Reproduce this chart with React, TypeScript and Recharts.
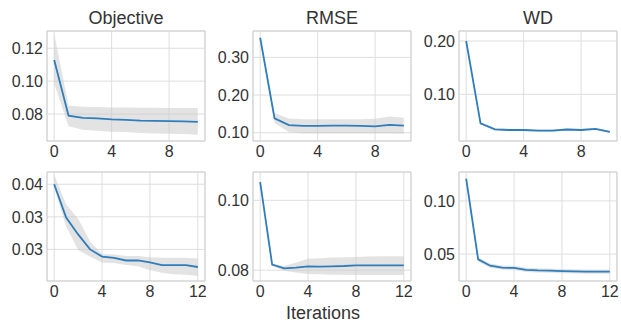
import React from 'react';
import { ComposedChart, Line, Area, XAxis, YAxis, CartesianGrid, ReferenceArea } from 'recharts';

// iterations
const itersTop = [0, 1, 2, 3, 4, 5, 6, 7, 8, 9, 10];
const itersBottom = [0, 1, 2, 3, 4, 5, 6, 7, 8, 9, 10, 11, 12];

// top row
const objMean = [0.1129, 0.079, 0.0777, 0.0773, 0.0767, 0.0765, 0.076, 0.0759, 0.0757, 0.0755, 0.0752];
const objLo = [0.0985, 0.0725, 0.0705, 0.0698, 0.0693, 0.069, 0.0685, 0.0682, 0.068, 0.0678, 0.0674];
const objHi = [0.129, 0.085, 0.0845, 0.0843, 0.084, 0.084, 0.0838, 0.0838, 0.0837, 0.0837, 0.0836];

const rmseMean = [0.352, 0.138, 0.12, 0.118, 0.118, 0.119, 0.119, 0.118, 0.117, 0.121, 0.119];
const rmseLo = [0.349, 0.126, 0.102, 0.098, 0.098, 0.098, 0.098, 0.098, 0.098, 0.098, 0.097];
const rmseHi = [0.355, 0.152, 0.138, 0.136, 0.136, 0.136, 0.136, 0.136, 0.137, 0.143, 0.14];

const wdMean = [0.2, 0.0456, 0.0343, 0.033, 0.033, 0.032, 0.032, 0.034, 0.033, 0.035, 0.0295];
const wdLo = [0.198, 0.0436, 0.0323, 0.031, 0.031, 0.0298, 0.0298, 0.032, 0.031, 0.033, 0.0275];
const wdHi = [0.202, 0.0476, 0.0363, 0.035, 0.035, 0.0342, 0.0342, 0.036, 0.035, 0.037, 0.0315];

// bottom row
const obj2Mean = [0.04, 0.0349, 0.0323, 0.03, 0.0289, 0.0287, 0.0283, 0.0283, 0.028, 0.0276, 0.0276, 0.0276, 0.0273];
const obj2Lo = [0.0395, 0.0335, 0.0299, 0.0289, 0.028, 0.0279, 0.0276, 0.0274, 0.0268, 0.0264, 0.0262, 0.0261, 0.0259];
const obj2Hi = [0.0415, 0.0369, 0.0347, 0.0312, 0.0293, 0.0292, 0.029, 0.029, 0.0288, 0.0287, 0.0287, 0.0287, 0.0286];

const rmse2Mean = [0.1052, 0.0816, 0.0805, 0.0807, 0.0811, 0.081, 0.0811, 0.0812, 0.0814, 0.0814, 0.0814, 0.0814, 0.0814];
const rmse2Lo = [0.105, 0.0813, 0.0798, 0.0793, 0.0789, 0.0788, 0.0787, 0.0787, 0.0786, 0.0786, 0.0786, 0.0786, 0.0786];
const rmse2Hi = [0.1054, 0.0819, 0.0812, 0.0822, 0.0833, 0.0834, 0.0836, 0.0837, 0.0838, 0.0839, 0.084, 0.084, 0.084];

const wd2Mean = [0.121, 0.045, 0.0391, 0.0372, 0.037, 0.0352, 0.0347, 0.0345, 0.034, 0.0337, 0.0335, 0.0335, 0.0335];
const wd2Lo = [0.119, 0.043, 0.0371, 0.0352, 0.035, 0.0332, 0.0327, 0.0325, 0.032, 0.0317, 0.0315, 0.0315, 0.0315];
const wd2Hi = [0.123, 0.047, 0.0411, 0.0392, 0.039, 0.0372, 0.0367, 0.0365, 0.036, 0.0357, 0.0355, 0.0355, 0.0355];

// tick labels
const titles = ['Objective', 'RMSE', 'WD'];
const xTicksTop = [0, 4, 8];
const xTicksBottom = [0, 4, 8, 12];
const yTicks = [
  [0.08, 0.1, 0.12],
  [0.1, 0.2, 0.3],
  [0.1, 0.2],
  [0.03, 0.035, 0.04],
  [0.08, 0.1],
  [0.05, 0.1],
];
const yTickLabels = [
  ['0.08', '0.10', '0.12'],
  ['0.10', '0.20', '0.30'],
  ['0.10', '0.20'],
  ['0.03', '0.03', '0.04'],
  ['0.08', '0.10'],
  ['0.05', '0.10'],
];
const xLabel = 'Iterations';

const FONT = '"Liberation Sans", Arial, sans-serif';
const TEXT = '#333333';
const Y_W = 46;

const build = (xs: number[], mean: number[], lo: number[], hi: number[]) =>
  xs.map((x, i) => ({ x, mean: mean[i], band: [lo[i], hi[i]] }));

interface PanelProps {
  data: { x: number; mean: number; band: number[] }[];
  left: number;
  top: number;
  w: number;
  h: number;
  xDomain: [number, number];
  yDomain: [number, number];
  xTicks: number[];
  yTicks: number[];
  yLabels: string[];
  title?: string;
}

const Panel: React.FC<PanelProps> = ({ data, left, top, w, h, xDomain, yDomain, xTicks, yTicks, yLabels, title }) => (
  <div style={{ position: 'absolute', left: left - Y_W, top: top - 5 }}>
    {title && (
      <div
        style={{
          position: 'absolute',
          left: Y_W,
          width: w,
          top: -18,
          textAlign: 'center',
          fontFamily: FONT,
          fontSize: 18,
          color: TEXT,
        }}
      >
        {title}
      </div>
    )}
    <ComposedChart width={Y_W + w + 5} height={h + 30} data={data} margin={{ top: 5, right: 5, left: 0, bottom: 0 }}>
      <CartesianGrid stroke="#dedede" strokeWidth={1} />
      <XAxis
        dataKey="x"
        type="number"
        domain={xDomain}
        ticks={xTicks}
        allowDataOverflow
        height={25}
        tickLine={false}
        axisLine={false}
        tickSize={0}
        tickMargin={5}
        tick={{ fill: TEXT, fontSize: 16, fontFamily: FONT }}
        interval={0}
      />
      <YAxis
        type="number"
        domain={yDomain}
        ticks={yTicks}
        allowDataOverflow
        width={Y_W}
        tickLine={false}
        axisLine={false}
        tickSize={0}
        tickMargin={4}
        interval={0}
        tick={{ fill: TEXT, fontSize: 16, fontFamily: FONT }}
        tickFormatter={(v: number) => yLabels[yTicks.indexOf(v)] ?? String(v)}
      />
      <Area dataKey="band" type="linear" stroke="none" fill="#c8c8c8" fillOpacity={0.5} isAnimationActive={false} />
      <ReferenceArea
        x1={xDomain[0]}
        x2={xDomain[1]}
        y1={yDomain[0]}
        y2={yDomain[1]}
        fill="none"
        stroke="#cfcfcf"
        strokeWidth={1}
        ifOverflow="visible"
      />
      <Line dataKey="mean" type="linear" stroke="#2f7dbb" strokeWidth={1.8} dot={false} isAnimationActive={false} />
    </ComposedChart>
  </div>
);

const cols = [47, 253, 459];
const W = 158;

export default function App() {
  const topX: [number, number] = [-0.5, 10.5];
  const botX: [number, number] = [-0.6, 12.6];
  return (
    <div style={{ position: 'absolute', left: 0, top: 0, width: 621, height: 326, background: '#fff' }}>
      <Panel data={build(itersTop, objMean, objLo, objHi)} left={cols[0]} top={31} w={W} h={110}
        xDomain={topX} yDomain={[0.0636, 0.1305]} xTicks={xTicksTop} yTicks={yTicks[0]} yLabels={yTickLabels[0]} title={titles[0]} />
      <Panel data={build(itersTop, rmseMean, rmseLo, rmseHi)} left={cols[1]} top={31} w={W} h={110}
        xDomain={topX} yDomain={[0.078, 0.37]} xTicks={xTicksTop} yTicks={yTicks[1]} yLabels={yTickLabels[1]} title={titles[1]} />
      <Panel data={build(itersTop, wdMean, wdLo, wdHi)} left={cols[2]} top={31} w={W} h={110}
        xDomain={topX} yDomain={[0.0124, 0.2188]} xTicks={xTicksTop} yTicks={yTicks[2]} yLabels={yTickLabels[2]} title={titles[2]} />
      <Panel data={build(itersBottom, obj2Mean, obj2Lo, obj2Hi)} left={cols[0]} top={172} w={W} h={109}
        xDomain={botX} yDomain={[0.02515, 0.04188]} xTicks={xTicksBottom} yTicks={yTicks[3]} yLabels={yTickLabels[3]} />
      <Panel data={build(itersBottom, rmse2Mean, rmse2Lo, rmse2Hi)} left={cols[1]} top={172} w={W} h={109}
        xDomain={botX} yDomain={[0.0769, 0.1081]} xTicks={xTicksBottom} yTicks={yTicks[4]} yLabels={yTickLabels[4]} />
      <Panel data={build(itersBottom, wd2Mean, wd2Lo, wd2Hi)} left={cols[2]} top={172} w={W} h={109}
        xDomain={botX} yDomain={[0.0247, 0.1272]} xTicks={xTicksBottom} yTicks={yTicks[5]} yLabels={yTickLabels[5]} />
      <div
        style={{
          position: 'absolute',
          left: 263,
          width: 120,
          top: 303,
          textAlign: 'center',
          fontFamily: FONT,
          fontSize: 18,
          color: TEXT,
        }}
      >
        {xLabel}
      </div>
    </div>
  );
}
